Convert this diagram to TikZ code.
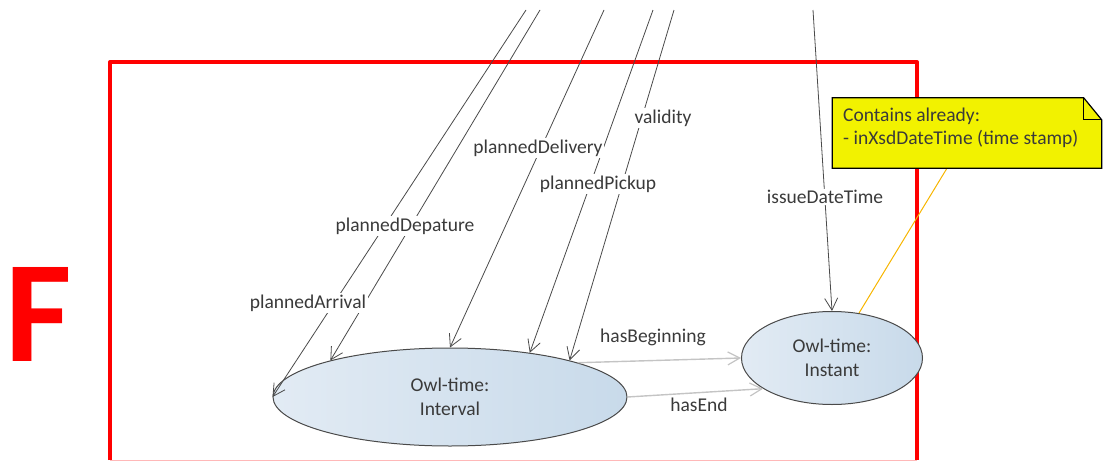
\documentclass[tikz,border=0pt]{standalone}
\usepackage{fontspec}
\setmainfont{Carlito}
\usetikzlibrary{shapes.geometric,arrows.meta}
\definecolor{txt}{HTML}{3A3A3A}
\definecolor{ln}{HTML}{4A4A4A}
\definecolor{lgray}{HTML}{C4C4C4}
\definecolor{elL}{HTML}{E2EBF4}
\definecolor{elR}{HTML}{C8DAEA}
\definecolor{noteY}{HTML}{F2F200}
\definecolor{orng}{HTML}{F7B500}
\definecolor{pinkish}{HTML}{FFB8B8}
\begin{document}
\begin{tikzpicture}[x=1pt,y=-1pt,
  lbl/.style={font=\fontsize{19.5}{22}\selectfont, text=txt, fill=white, inner sep=1.5pt},
  plainlbl/.style={font=\fontsize{19.5}{22}\selectfont, text=txt, inner sep=1pt},
  owl/.style={ellipse, draw=ln, line width=1pt, left color=elL, right color=elR,
     font=\fontsize{19.5}{24}\selectfont, text=txt, align=center, inner sep=0pt},
  arr/.style={draw=ln, line width=0.8pt, -{Straight Barb[length=12pt,width=13pt,line width=0.8pt]}},
  garr/.style={draw=lgray, line width=1.4pt, -{Straight Barb[length=12pt,width=13pt,line width=1.2pt]}},
]
\useasboundingbox (0,0) rectangle (1104,461);
% frame
\draw[pinkish, line width=1pt] (110,460) -- (917,460);
\draw[red, line width=4pt, line join=round] (110,460) -- (110,62) -- (917,62) -- (917,460);
\node[font=\fontsize{145}{150}\selectfont\bfseries, text=red, inner sep=0pt, anchor=west] (F) at (5,314) {F};
% ellipses
\node[owl, minimum width=354pt, minimum height=98pt] (int) at (450,397) {Owl-time:\\Interval};
\node[owl, minimum width=181pt, minimum height=93pt] (ins) at (832,358) {Owl-time:\\Instant};
% free ends at top
\coordinate (t1) at (526,10);
\coordinate (t2) at (540,10);
\coordinate (t3) at (604,10);
\coordinate (t4) at (653,10);
\coordinate (t5) at (674,10);
\coordinate (t6) at (813,10);
\draw[arr] (t1) -- (int.west);
\draw[arr] (t2) -- (int.163);
\draw[arr] (t3) -- (int.north);
\draw[arr] (t4) -- (int.29);
\draw[arr] (t5) -- (int.17);
\draw[arr] (t6) -- (ins.north);
\draw[garr] (int.15) -- (ins.west);
\draw[garr] (int.east) -- (ins.204);
% labels
\node[lbl] (lArr) at (308,303) {plannedArrival};
\node[lbl] (lDep) at (405,226) {plannedDepature};
\node[lbl] (lDel) at (538,148) {plannedDelivery};
\node[lbl] (lPick) at (598,184) {plannedPickup};
\node[lbl] (lVal) at (663,118) {validity};
\node[lbl] (lIss) at (825,197) {issueDateTime};
\node[plainlbl] (lBeg) at (653,337) {hasBeginning};
\node[plainlbl] (lEnd) at (699,405) {hasEnd};
% note
\node[minimum width=269pt, minimum height=70pt, inner sep=0pt] (note) at (967,133) {};
\coordinate (nb) at ([xshift=-20pt]note.south);
\draw[orng, line width=1pt] (nb) -- (ins.59);
\fill[noteY] (note.north west) -- ([xshift=-18pt]note.north east) -- ([yshift=-22pt]note.north east)
   -- (note.south east) -- (note.south west) -- cycle;
\draw[black, line width=1.2pt, line join=miter] (note.north west) -- ([xshift=-18pt]note.north east)
   -- ([yshift=-22pt]note.north east) -- (note.south east) -- (note.south west) -- cycle;
\draw[black, line width=1.2pt] ([xshift=-18pt]note.north east) -- ([xshift=-18pt,yshift=-22pt]note.north east) -- ([yshift=-22pt]note.north east);
\node[font=\fontsize{19.5}{23}\selectfont, text=txt, align=left, anchor=north west, inner sep=0pt] (ntext) at (843,108)
  {Contains already:\\- inXsdDateTime (time stamp)};
\end{tikzpicture}
\end{document}
